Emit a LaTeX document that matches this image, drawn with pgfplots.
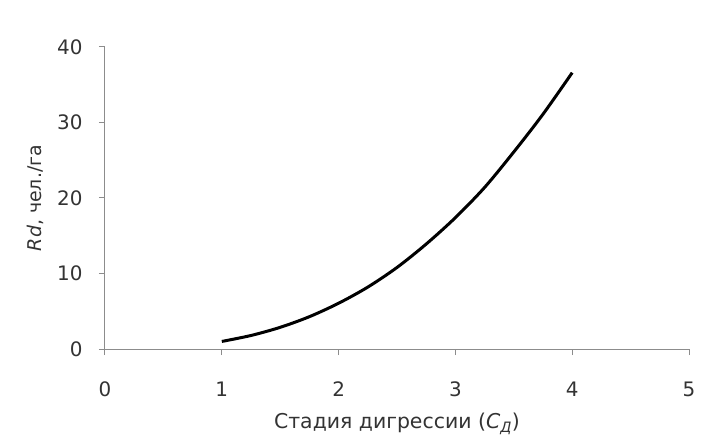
\documentclass[border=0pt]{standalone}
\usepackage{pgfplots}
\pgfplotsset{compat=1.18}
\usepackage{fontspec}
\setmainfont{DejaVu Sans}
\definecolor{axgray}{HTML}{8C8C8C}
\definecolor{txtgray}{HTML}{333333}
\begin{document}
\begin{tikzpicture}
\path[use as bounding box] (-105bp,-98bp) rectangle (611bp,349bp);
\begin{axis}[
    at={(0,0)}, anchor=south west,
    scale only axis,
    width=584bp, height=302bp,
    xmin=0, xmax=5, ymin=0, ymax=40,
    xtick={0,1,2,3,4,5},
    ytick={0,10,20,30,40},
    axis lines*=left,
    axis line style={axgray, line width=1bp},
    tick style={axgray, line width=1bp},
    major tick length=6bp,
    tick align=outside,
    tick label style={font=\fontsize{20}{24}\selectfont, text=txtgray},
    /pgf/number format/assume math mode=true,
    xticklabel style={anchor=center, yshift=-34bp},
    yticklabel style={anchor=east, xshift=-13bp},
    xlabel={Стадия дигрессии (\textit{C}\textsubscript{\textit{Д}})},
    ylabel={\textit{Rd}, чел./га},
    xlabel style={font=\fontsize{20.5}{24}\selectfont, text=txtgray,
        at={(rel axis cs:0.5,0)}, anchor=center, yshift=-75bp},
    ylabel style={font=\fontsize{19}{23}\selectfont, text=txtgray,
        at={(rel axis cs:0,0.5)}, anchor=center, yshift=70bp},
    clip=false,
]
\addplot[black, line width=3bp, smooth] coordinates {
    (1.00, 1.00) (1.25, 1.79) (1.50, 2.87) (1.75, 4.28) (2.00, 6.06)
    (2.25, 8.20) (2.50, 10.8) (2.75, 13.9) (3.00, 17.4) (3.25, 21.4)
    (3.50, 26.1) (3.75, 31.1) (4.00, 36.6)
};
\end{axis}
\end{tikzpicture}
\end{document}
